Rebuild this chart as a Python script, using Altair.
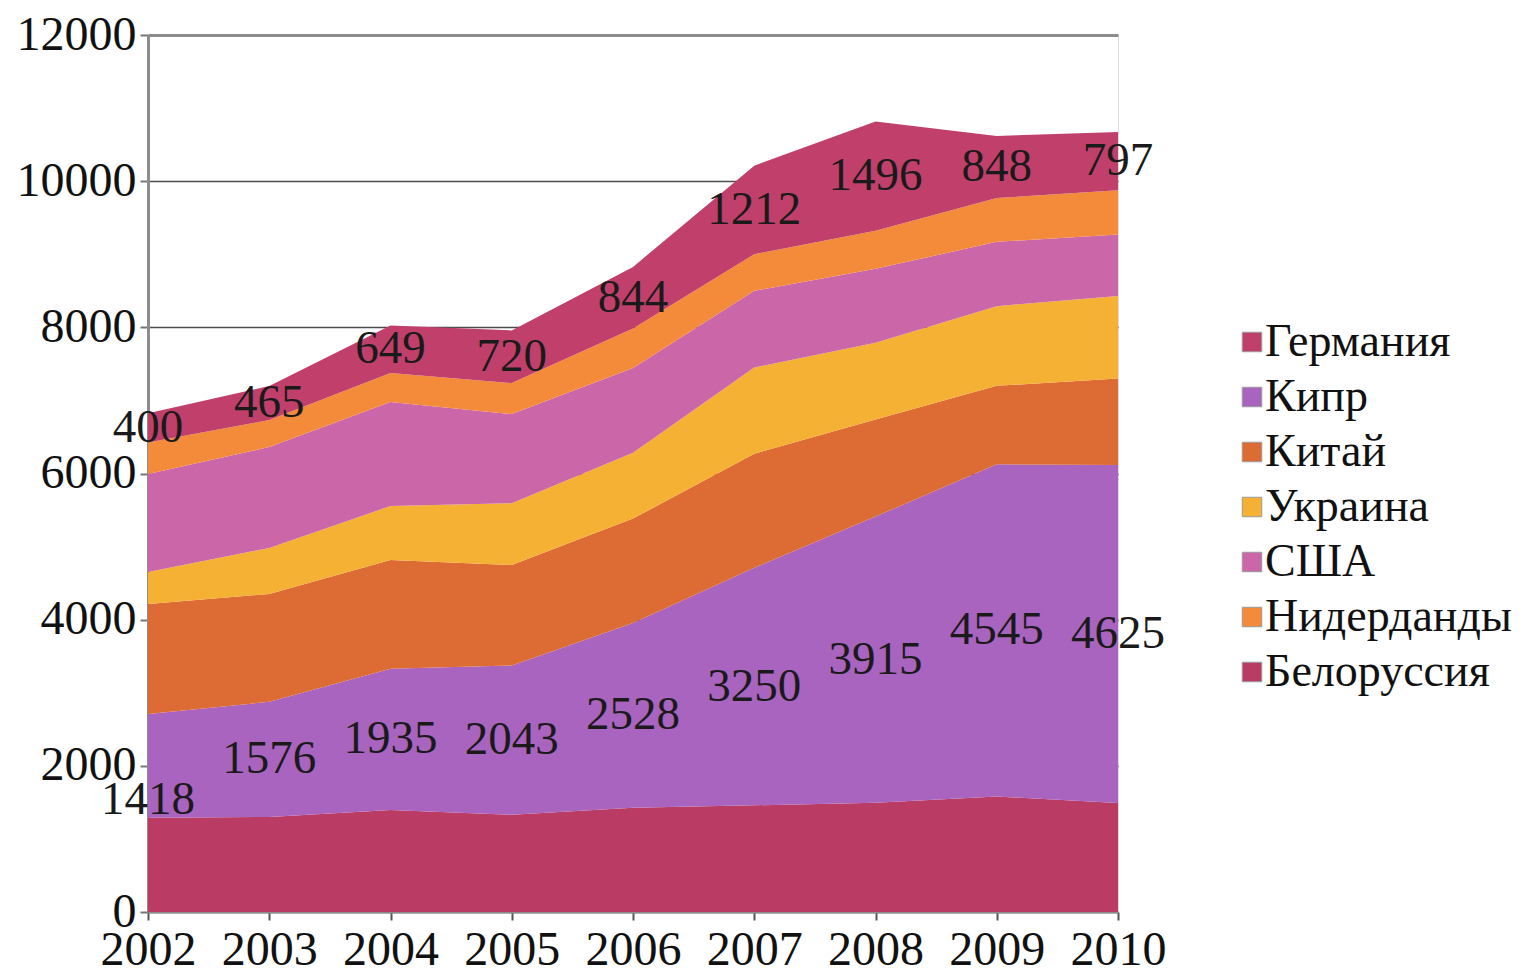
import altair as alt
import pandas as pd

years = [2002, 2003, 2004, 2005, 2006, 2007, 2008, 2009, 2010]

belarus     = [1290, 1300, 1395, 1330, 1425, 1460, 1495, 1580, 1490]
cyprus      = [1418, 1576, 1935, 2043, 2528, 3250, 3915, 4545, 4625]
china       = [1505, 1475, 1485, 1375, 1430, 1560, 1330, 1075, 1185]
ukraine     = [440, 630, 740, 845, 900, 1180, 1050, 1090, 1130]
usa         = [1340, 1380, 1425, 1220, 1160, 1050, 1010, 880, 840]
netherlands = [430, 370, 395, 425, 540, 500, 520, 600, 605]
germany     = [400, 465, 649, 720, 844, 1212, 1496, 848, 797]

# stack order bottom -> top
stack_names = ["Белоруссия", "Кипр", "Китай", "Украина", "США", "Нидерданды", "Германия"]
stack_values = [belarus, cyprus, china, ukraine, usa, netherlands, germany]
# legend order
legend_names = ["Германия", "Кипр", "Китай", "Украина", "США", "Нидерданды", "Белоруссия"]
colors = {
    "Германия": "#C0406B",
    "Кипр": "#A864BE",
    "Китай": "#DD6B34",
    "Украина": "#F5B134",
    "США": "#CB67A9",
    "Нидерданды": "#F48B3B",
    "Белоруссия": "#BA3C65",
}
labelled = ["Кипр", "Германия"]

rows = []
for i, y in enumerate(years):
    base = 0
    for k, (name, vals) in enumerate(zip(stack_names, stack_values)):
        v = vals[i]
        rows.append({"year": y, "country": name, "value": v, "order": k,
                     "mid": base + v / 2, "show": name in labelled,
                     "first": (name == "Кипр" and i == 0)})
        base += v
df = pd.DataFrame(rows)

FONT = "Liberation Serif"

x = alt.X("year:Q", scale=alt.Scale(domain=[2002, 2010], nice=False),
          axis=alt.Axis(values=years, format="d", title=None, grid=False,
                        labelFontSize=48, labelFont=FONT, labelColor="#111",
                        tickSize=8, tickColor="#555", tickWidth=2,
                        domainColor="#8c8c8c", domainWidth=2, labelPadding=6,
                        labelFlush=False))

area = alt.Chart(df).mark_area(opacity=1).encode(
    x=x,
    y=alt.Y("value:Q", stack="zero",
            scale=alt.Scale(domain=[0, 12000], nice=False),
            axis=alt.Axis(values=[0, 2000, 4000, 6000, 8000, 10000, 12000],
                          format="d", title=None,
                          labelFontSize=48, labelFont=FONT, labelColor="#111",
                          tickSize=8, tickColor="#777", tickWidth=2,
                          domainColor="#8c8c8c", domainWidth=3, labelPadding=4,
                          gridColor=alt.condition("datum.value === 12000",
                                                  alt.value("#8c8c8c"), alt.value("#4d4d4d")),
                          gridWidth=alt.condition("datum.value === 12000",
                                                  alt.value(3), alt.value(1.6)))),
    color=alt.Color("country:N",
                    scale=alt.Scale(domain=legend_names,
                                    range=[colors[n] for n in legend_names]),
                    legend=alt.Legend(title=None, orient="none", legendX=1081, legendY=284,
                                      padding=0,
                                      labelFont=FONT, labelFontSize=46, labelColor="#111",
                                      symbolType="square", symbolSize=380,
                                      symbolStrokeColor="#9a9a9a", symbolStrokeWidth=1,
                                      rowPadding=9, labelOffset=alt.ExprRef(expr="-10"),
                                      labelLimit=400)),
    order=alt.Order("order:Q", sort="ascending"),
)

label_style = dict(font=FONT, fontSize=47, color="#1a1a1a", baseline="middle", align="center")

labels = alt.Chart(df).transform_filter("datum.show && !datum.first").mark_text(
    **label_style
).encode(
    x=alt.X("year:Q"),
    y=alt.Y("mid:Q"),
    text=alt.Text("value:Q", format="d"),
)

first_label = alt.Chart(df).transform_filter("datum.first").mark_text(
    dy=34, **label_style
).encode(
    x=alt.X("year:Q"),
    y=alt.Y("mid:Q"),
    text=alt.Text("value:Q", format="d"),
)

chart = alt.layer(area, labels, first_label).properties(
    width=970, height=877,
    padding={"left": 140, "top": 27, "right": 395, "bottom": 56},
    autosize=alt.AutoSizeParams(type="none"),
).configure_view(stroke=None).configure(background="white")

chart.save("out.html", embed_options={"renderer": "svg", "actions": False})
